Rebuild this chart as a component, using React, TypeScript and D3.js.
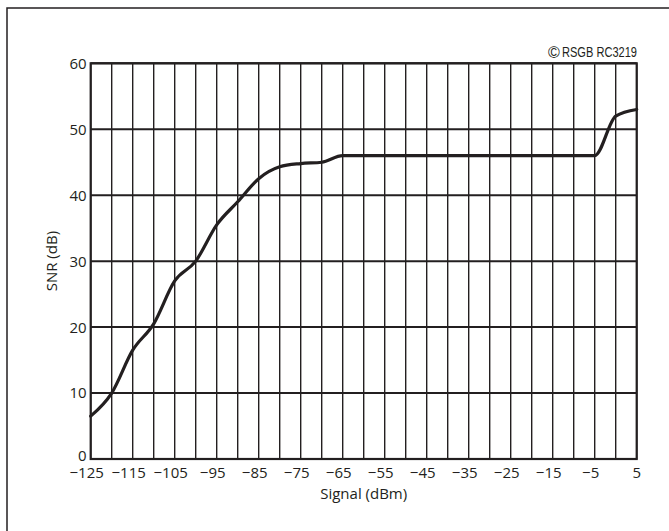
import * as d3 from 'd3';

// Signal (dBm) vs SNR (dB)
const signal = [-125, -120, -115, -110, -105, -100, -95, -90, -85, -80, -75, -70, -65, -5, 0, 5];
const snr = [6.5, 10, 16.5, 20.5, 27, 30, 35.5, 39, 42.5, 44.3, 44.8, 45, 46, 46, 52, 53];

const xGrid = d3.range(-125, 6, 5);
const xTickLabels = d3.range(-125, 6, 10);
const yTicks = [0, 10, 20, 30, 40, 50, 60];

const W = 669;
const H = 531;
const INK = '#231f20';
const FONT = '"Open Sans", "DejaVu Sans", sans-serif';

export default function App() {
  const x = d3.scaleLinear().domain([-125, 5]).range([90.7, 636.7]);
  const y = d3.scaleLinear().domain([0, 60]).range([459, 63.3]);

  const pts = signal.map((s, i) => ({ s, v: snr[i] }));
  const line = d3.line<{ s: number; v: number }>()
    .x((d) => x(d.s))
    .y((d) => y(d.v))
    .curve(d3.curveMonotoneX);

  const fmt = (d: number) => (d < 0 ? `\u2212${Math.abs(d)}` : `${d}`);

  return (
    <svg width={W} height={H} style={{ position: 'absolute', left: 0, top: 0, background: '#fff' }}>
      {/* outer frame (only top and left visible) */}
      <path d={`M7,${H + 2}V8H${W + 2}`} fill="none" stroke={INK} strokeWidth={1.5} />

      {/* vertical grid */}
      {xGrid.map((d) => (
        <line key={`v${d}`} x1={x(d)} x2={x(d)} y1={y(0)} y2={y(60)} stroke={INK} strokeWidth={1.4} />
      ))}
      {/* horizontal grid */}
      {yTicks.map((d) => (
        <line key={`h${d}`} x1={x(-125)} x2={x(5)} y1={y(d)} y2={y(d)} stroke={INK} strokeWidth={2} />
      ))}
      <rect x={x(-125)} y={y(60)} width={x(5) - x(-125)} height={y(0) - y(60)} fill="none" stroke={INK} strokeWidth={2.2} />

      {/* curve */}
      <path d={line(pts) ?? ''} fill="none" stroke={INK} strokeWidth={3.2} strokeLinejoin="round" strokeLinecap="round" />

      {/* y tick labels */}
      {yTicks.map((d) => (
        <text key={`yl${d}`} x={x(-125) - 4} y={y(d) - (d === 0 ? 3 : 0)} dy="0.36em" textAnchor="end" fontFamily={FONT} fontSize={15} fill={INK}>
          {d}
        </text>
      ))}
      {/* x tick labels */}
      {xTickLabels.map((d) => (
        <text key={`xl${d}`} x={x(d) - (d < 0 ? 4 : 0)} y={478} textAnchor="middle" fontFamily={FONT} fontSize={15} fill={INK}>
          {fmt(d)}
        </text>
      ))}

      {/* axis titles */}
      <text x={(x(-125) + x(5)) / 2} y={499} textAnchor="middle" fontFamily={FONT} fontSize={15} fill={INK}>
        Signal (dBm)
      </text>
      <text transform={`translate(57,${(y(0) + y(60)) / 2}) rotate(-90)`} textAnchor="middle" fontFamily={FONT} fontSize={15} fill={INK}>
        SNR (dB)
      </text>

      {/* credit */}
      <text x={554} y={57.5} textAnchor="middle" fontFamily='"Liberation Sans", sans-serif' fontSize={16} fill={INK}>
        ©
      </text>
      <text x={562} y={57} textLength={75} lengthAdjust="spacingAndGlyphs" fontFamily='"Liberation Sans", sans-serif' fontSize={14} fill={INK}>
        RSGB RC3219
      </text>
    </svg>
  );
}
